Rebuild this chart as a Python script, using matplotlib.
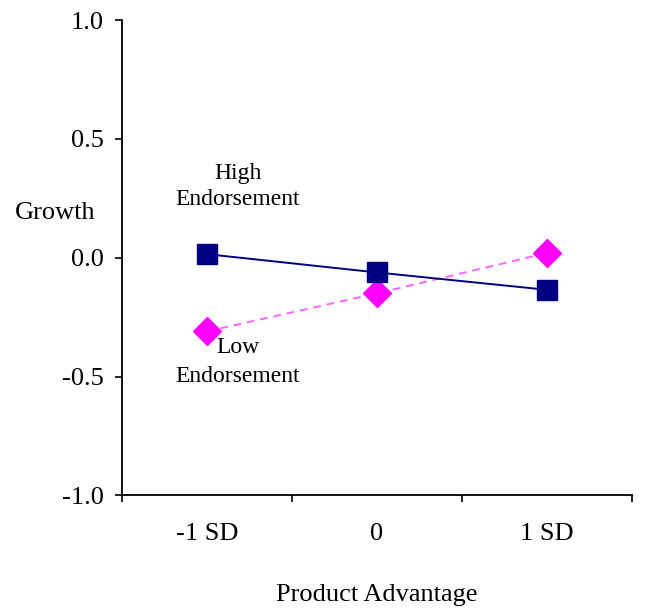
import numpy as np
import matplotlib
matplotlib.use("Agg")
import matplotlib.pyplot as plt

# data
categories = ["-1 SD", "0", "1 SD"]
high_endorsement = [0.015, -0.062, -0.135]
low_endorsement = [-0.31, -0.15, 0.02]
y_ticks = [-1.0, -0.5, 0.0, 0.5, 1.0]

plt.rcParams["font.family"] = ["Liberation Serif", "DejaVu Serif"]

fig = plt.figure(figsize=(6.45, 6.1), dpi=100)
ax = fig.add_axes([0.189, 0.188, 0.791, 0.779])

x = np.arange(len(categories))
ax.plot(x, low_endorsement, color="#ff66ff", linestyle=(0, (4, 3)), linewidth=1.4,
        marker="D", markersize=14, markerfacecolor="#ff00ff", markeredgecolor="#ff00ff")
ax.plot(x, high_endorsement, color="#000080", linewidth=1.4,
        marker="s", markersize=14, markerfacecolor="#000080", markeredgecolor="#000080")

ax.set_xlim(-0.5, len(categories) - 0.5)
ax.set_ylim(-1.0, 1.0)
ax.set_yticks(y_ticks)
ax.set_yticklabels([f"{v:.1f}" for v in y_ticks])
ax.set_xticks(x)
ax.set_xticklabels(categories)
ax.set_xticks(np.arange(-0.5, len(categories), 1.0), minor=True)
ax.tick_params(axis="x", which="major", length=0, pad=20, labelsize=19)
ax.tick_params(axis="x", which="minor", length=5, width=1.2, direction="out")
ax.tick_params(axis="y", length=5, width=1.2, direction="out", pad=8, labelsize=19)

for side in ["top", "right"]:
    ax.spines[side].set_visible(False)
for side in ["left", "bottom"]:
    ax.spines[side].set_linewidth(1.3)

ax.set_xlabel("Product Advantage", fontsize=19, labelpad=28)
fig.text(15 / 645, 1 - 213 / 610, "Growth", fontsize=19, ha="left", va="center")

ax.text(0.18, 0.30, "High\nEndorsement", fontsize=17, ha="center", va="center",
        linespacing=1.35)
ax.text(0.18, -0.44, "Low\nEndorsement", fontsize=17, ha="center", va="center",
        linespacing=1.5)

fig.savefig("out.png", dpi=100)
